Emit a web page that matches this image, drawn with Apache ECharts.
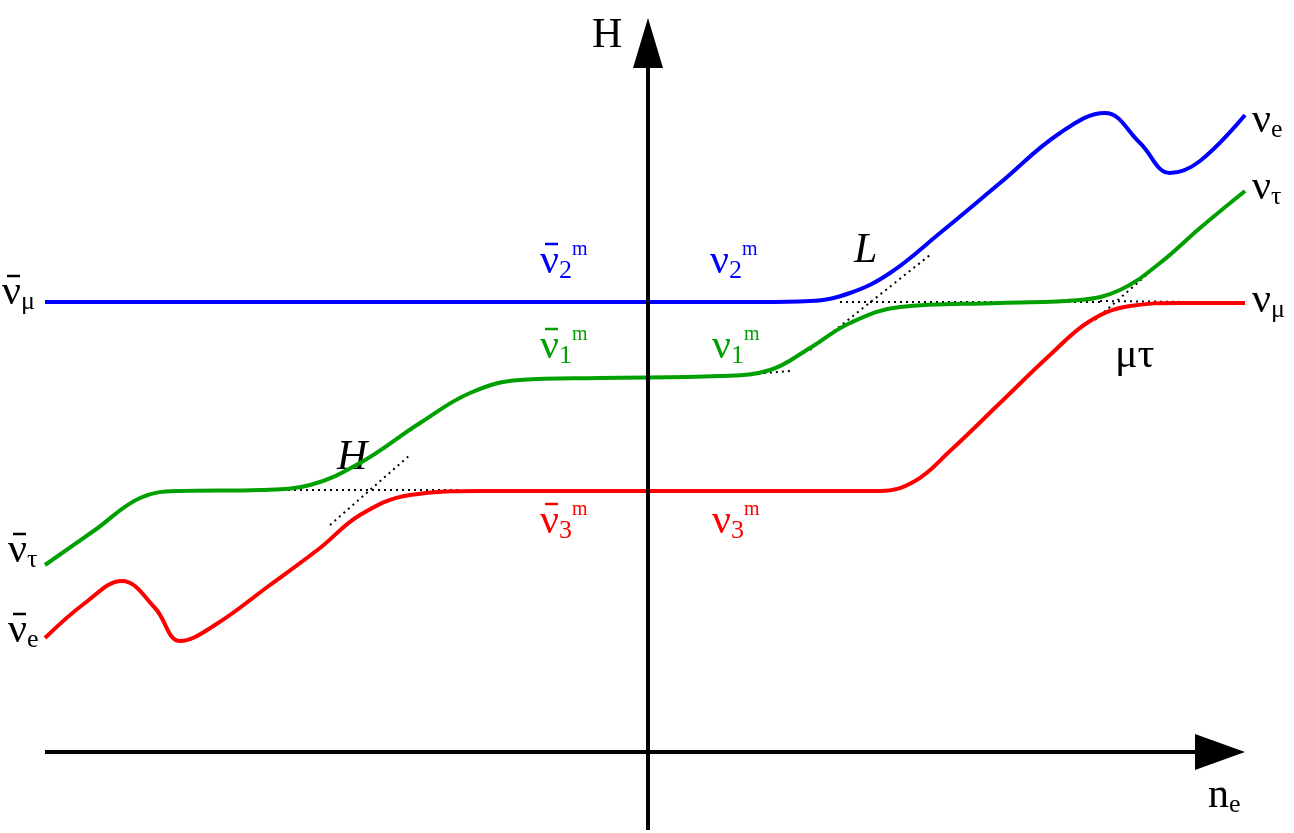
<!DOCTYPE html>
<html><head><meta charset="utf-8">
<script src="https://cdn.jsdelivr.net/npm/echarts@6/dist/echarts.min.js"></script>
<style>html,body{margin:0;padding:0;background:#fff}#c{width:1294px;height:833px}</style>
</head><body><div id="c"></div>
<script>
// data in diagram units (x: 0..1294, y: 0..833 upward)
const blueCurve = [[45,531],[400,531],[760,531],[810,532],[850,540],[890,560],[940,600],[1000,650],[1060,700],[1105,720],[1140,690],[1170,660],[1200,672],[1245,718]];
const greenCurve = [[45,268],[95,303],[140,335],[180,342],[260,343],[310,348],[360,370],[420,410],[470,440],[520,453],[600,455],[720,457],[770,463],[810,485],[850,510],[900,526],[1000,530],[1080,533],[1120,543],[1160,570],[1200,605],[1245,642]];
const redCurve = [[45,195],[85,230],[122,252],[155,225],[180,192],[215,208],[270,248],[320,285],[360,318],[410,338],[480,342],[700,342],[880,342],[915,352],[950,382],[1000,430],[1050,478],[1090,512],[1130,527],[1180,530],[1245,530]];
const dotted = [
  [[270,343],[460,343]],
  [[330,308],[410,378]],
  [[840,531],[1100,531]],
  [[810,483],[930,578]],
  [[1100,532],[1190,531]],
  [[1095,513],[1150,561]],
  [[740,458],[790,462]]
];
const xAxisLine = [[45,81],[1200,81]];
const yAxisLine = [[648,3],[648,770]];

const sm = {smooth:0.4,symbol:'none',z:3};
const series = [
  Object.assign({type:'line',data:blueCurve,lineStyle:{color:'#0000ff',width:4}},sm),
  Object.assign({type:'line',data:greenCurve,lineStyle:{color:'#00a000',width:4}},sm),
  Object.assign({type:'line',data:redCurve,lineStyle:{color:'#ff0000',width:4}},sm),
  {type:'line',data:xAxisLine,symbol:'none',lineStyle:{color:'#000',width:4}},
  {type:'line',data:yAxisLine,symbol:'none',lineStyle:{color:'#000',width:4}},
];
dotted.forEach(d=>series.push({type:'line',data:d,symbol:'none',lineStyle:{color:'#000',width:2,type:[2,4]},z:2}));

const chart = echarts.init(document.getElementById('c'));
const F='Liberation Serif';
function lab(x,y,s,u,c,barred){
  const rich={m:{fontSize:42,fontFamily:F,fill:c},s:{fontSize:26,fontFamily:F,fill:c,padding:[18,0,0,0]},u:{fontSize:20,fontFamily:F,fill:c,padding:[0,0,24,0]}};
  let t='{m|ν}{s|'+s+'}'+(u?'{u|'+u+'}':'');
  const ch=[{type:'text',left:0,top:0,style:{text:t,rich:rich}}];
  if(barred) ch.push({type:'line',shape:{x1:5,y1:4,x2:18,y2:4},style:{stroke:c,lineWidth:2.5}});
  return {type:'group',left:x,top:y,children:ch};
}
chart.setOption({
  animation:false,
  grid:{left:0,right:0,top:0,bottom:0},
  xAxis:{type:'value',min:0,max:1294,show:false},
  yAxis:{type:'value',min:0,max:833,show:false},
  series:series,
  graphic:[
    {type:'polygon',shape:{points:[[1195,734],[1245,752],[1195,770]]},style:{fill:'#000'}},
    {type:'polygon',shape:{points:[[633,68],[648,18],[663,68]]},style:{fill:'#000'}},
    {type:'text',left:592,top:15,style:{text:'H',font:'42px Liberation Serif',fill:'#000'}},
    {type:'text',left:1208,top:775,style:{text:'{m|n}{s|e}',rich:{m:{fontSize:42,fontFamily:F},s:{fontSize:26,fontFamily:F,padding:[18,0,0,0]}}}},
    lab(2,272,'μ','','#000',true),
    lab(8,530,'τ','','#000',true),
    lab(8,610,'e','','#000',true),
    lab(1252,100,'e','','#000',false),
    lab(1252,167,'τ','','#000',false),
    lab(1252,280,'μ','','#000',false),
    lab(540,240,'2','m','#0000ff',true),
    lab(710,240,'2','m','#0000ff',false),
    lab(540,325,'1','m','#00a000',true),
    lab(712,325,'1','m','#00a000',false),
    lab(540,500,'3','m','#ff0000',true),
    lab(712,500,'3','m','#ff0000',false),
    {type:'text',left:337,top:437,style:{text:'H',font:'italic 42px Liberation Serif',fill:'#000'}},
    {type:'text',left:854,top:230,style:{text:'L',font:'italic 42px Liberation Serif',fill:'#000'}},
    {type:'text',left:1115,top:335,style:{text:'μτ',font:'42px Liberation Serif',fill:'#000'}}
  ]
});
</script></body></html>
